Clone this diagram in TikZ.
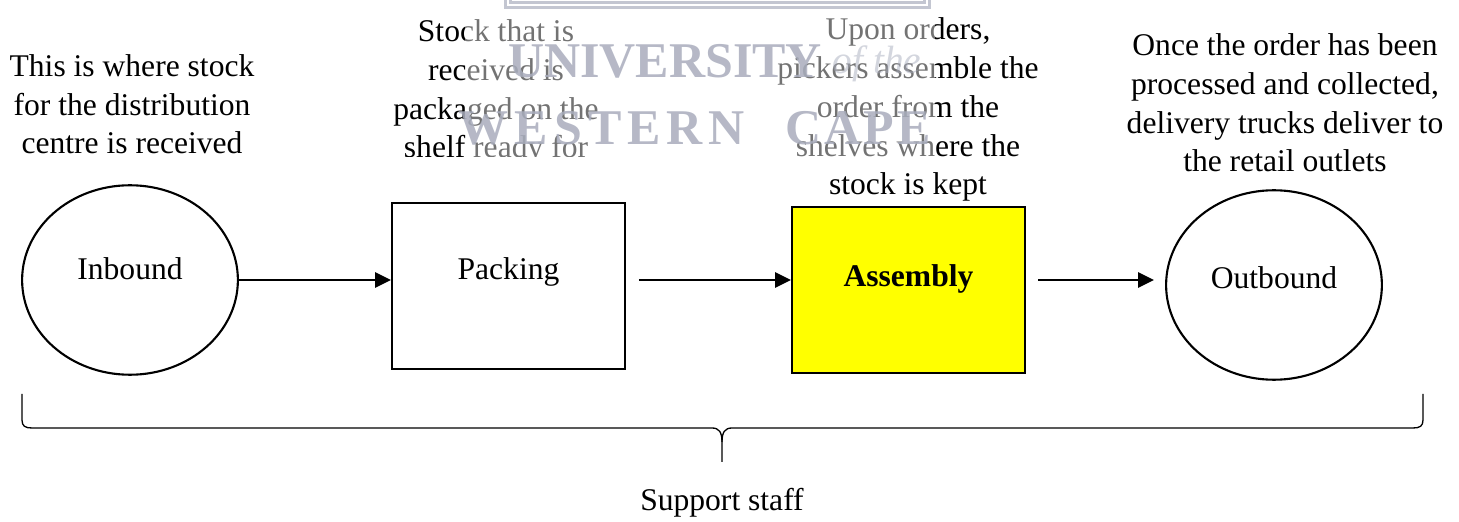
\documentclass[tikz,border=0pt]{standalone}
\usepackage{fontspec}
\setmainfont{Liberation Serif}
\usepackage{tikz}
\usetikzlibrary{positioning,shapes.geometric,arrows.meta}
\definecolor{boxyellow}{HTML}{FFFF00}
\definecolor{wmgray}{HTML}{A9ADBD}

\begin{document}
\begin{tikzpicture}[x=0.38pt, y=-0.38pt,
    stage/.style={draw, line width=0.8pt, inner sep=0pt, font=\fontsize{12}{14.8}\selectfont, text height=0pt, text depth=0pt},
    oval/.style={stage, ellipse, minimum width=82pt, minimum height=72pt},
    stagebox/.style={stage, rectangle, minimum width=88.5pt, minimum height=63pt},
    note/.style={align=center, inner sep=0pt, anchor=base, font=\fontsize{12}{14.8}\selectfont},
    flow/.style={-{Triangle[length=6pt,width=5.7pt]}, line width=0.8pt},
    wmark/.style={wmgray, inner sep=0pt, anchor=base, opacity=0.85}]
\useasboundingbox (0,0) rectangle (1459,522);

% Stages
\node[oval] (inbound) at (130,280) {Inbound};
\node[stagebox, text depth=5.3pt] (packing) at (508.5,286) {Packing};
\node[stagebox, fill=boxyellow, text depth=3pt] (assembly) at (908.5,290) {\textbf{Assembly}};
\node[oval, text height=3pt] (outbound) at (1274,285) {Outbound};

% Arrows (all on the level of the inbound arrow)
\coordinate (packout) at ([xshift=4.9pt]packing.east);
\coordinate (asmout) at ([xshift=4.6pt]assembly.east);
\coordinate (outin) at ([xshift=-4.2pt]outbound.west);
\draw[flow] (inbound.east) -- (inbound.east -| packing.west);
\draw[flow] (packout |- inbound.east) -- (assembly.west |- inbound.east);
\draw[flow] (asmout |- inbound.east) -- (outin |- inbound.east);

% Notes above the stages (placed by the baseline of their last line)
\node[note] (innote) at (132,154) {This is where stock\\for the distribution\\centre is received};
\begin{scope}
  \clip (380,0) rectangle (640,157);
  \node[note] (packnote) at (496,158) {Stock that is\\received is\\packaged on the\\shelf ready for};
\end{scope}
\node[note] (asmnote) at (908,195) {Upon orders,\\pickers assemble the\\order from the\\shelves where the\\stock is kept};
\node[note] (outnote) at (1285,172) {Once the order has been\\processed and collected,\\delivery trucks deliver to\\the retail outlets};

% Watermark
\fill[white, opacity=0.45] (465,0) rectangle (935,162);
\draw[wmgray!70, line width=0.9pt, double=white, double distance=1pt] (508,-4) -- (508,5) -- (927,5) -- (927,-4);
\node[wmark, font=\fontsize{19}{19}\selectfont\bfseries] (wmuni) at (665,78) {UNIVERSITY};
\node[wmark, font=\fontsize{15}{15}\selectfont\itshape, opacity=0.5] (wmof) at (877,74) {of the};
\node[wmark, font=\fontsize{19}{19}\selectfont\bfseries\addfontfeature{LetterSpace=12}] (wmwest) at (602,145) {WESTERN};
\node[wmark, font=\fontsize{19}{19}\selectfont\bfseries\addfontfeature{LetterSpace=6}] (wmcape) at (858,145) {CAPE};

% Brace for the support staff
\draw[line width=0.5pt] (22,394) -- (22,420) .. controls (22,426) and (25,428) .. (32,428)
  -- (712,428) .. controls (719,428) and (722,432) .. (722,442) -- (722,462);
\draw[line width=0.5pt] (722,442) .. controls (722,432) and (725,428) .. (732,428)
  -- (1413,428) .. controls (1420,428) and (1423,426) .. (1423,420) -- (1423,394);
\node[note] (staff) at (722,510) {Support staff};

\end{tikzpicture}
\end{document}
